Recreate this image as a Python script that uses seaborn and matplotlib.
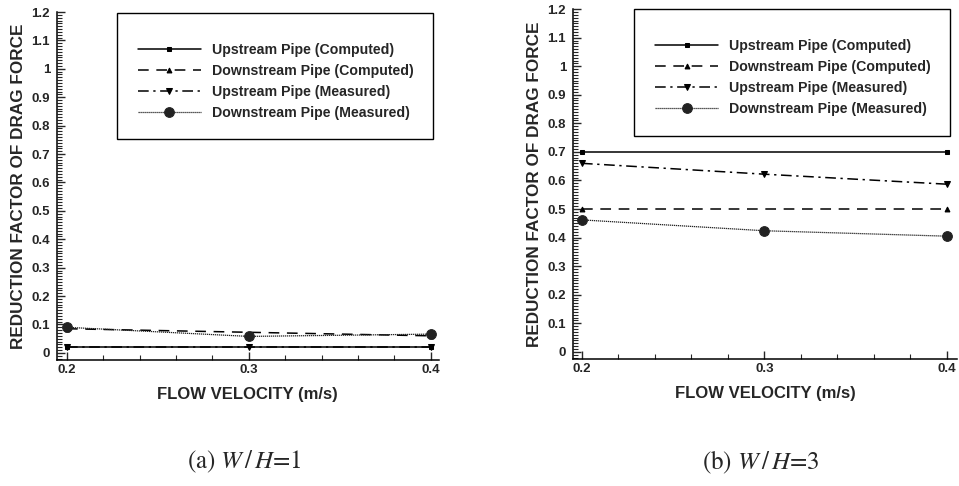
import numpy as np
import pandas as pd
import matplotlib
matplotlib.use("Agg")
import matplotlib.pyplot as plt
from matplotlib.ticker import MultipleLocator
from matplotlib.patches import Rectangle
import seaborn as sns

# flow velocities (m/s)
v_computed = [0.2, 0.4]
v_measured = [0.2, 0.3, 0.4]

# (a) W/H = 1
up_comp_1 = [0.02, 0.02]
down_comp_1 = [0.085, 0.06]
up_meas_1 = [0.02, 0.02, 0.02]
down_meas_1 = [0.09, 0.058, 0.066]

# (b) W/H = 3
up_comp_3 = [0.70, 0.70]
down_comp_3 = [0.50, 0.50]
up_meas_3 = [0.66, 0.622, 0.587]
down_meas_3 = [0.462, 0.424, 0.405]

labels = ["Upstream Pipe (Computed)", "Downstream Pipe (Computed)",
          "Upstream Pipe (Measured)", "Downstream Pipe (Measured)"]
captions = [r"(a) $W\,/\,H$=1", r"(b) $W\,/\,H$=3"]

sns.set_style("ticks")
plt.rcParams["font.family"] = ["Liberation Sans", "DejaVu Sans"]
plt.rcParams["mathtext.fontset"] = "stix"
plt.rcParams["xtick.direction"] = "in"
plt.rcParams["ytick.direction"] = "in"

fig = plt.figure(figsize=(9.59, 4.86), dpi=100)
ax1 = fig.add_axes([0.0594, 0.2593, 0.398, 0.716])
ax2 = fig.add_axes([0.5975, 0.2613, 0.4004, 0.720])

styles = [
    dict(marker="s", markersize=3.5, linestyle="-", linewidth=1.1, color="black"),
    dict(marker="^", markersize=3.5, linestyle=(0, (7, 5)), linewidth=1.1, color="black"),
    dict(marker="v", markersize=5, linestyle=(0, (7, 3, 1.5, 3)), linewidth=1.1, color="black"),
    dict(marker="o", markersize=7, linestyle=(0, (1, 0.6)), linewidth=0.9, color="#222222"),
]

panels = [
    (ax1, [up_comp_1, down_comp_1, up_meas_1, down_meas_1], (0.1945, 0.4044),
     (0.157, 0.635, 0.827, 0.362), (0.212, 0.91), 0.255),
    (ax2, [up_comp_3, down_comp_3, up_meas_3, down_meas_3], (0.1951, 0.4055),
     (0.159, 0.637, 0.823, 0.363), (0.2135, 0.914), 0.7935),
]

for i, (ax, series, xl, box, anchor, cap_x) in enumerate(panels):
    xs = [v_computed, v_computed, v_measured, v_measured]
    for x, y, lab, st in zip(xs, series, labels, styles):
        df = pd.DataFrame({"v": x, "r": y})
        sns.lineplot(data=df, x="v", y="r", ax=ax, label=lab,
                     markeredgecolor=st["color"], **st)
    ax.set_xlim(*xl)
    ax.set_ylim(-0.025, 1.2)
    ax.set_xticks([0.2, 0.3, 0.4])
    ax.set_xticklabels(["0.2", "0.3", "0.4"])
    ax.set_yticks(np.round(np.arange(0, 1.21, 0.1), 1))
    ax.set_yticklabels(["0", "0.1", "0.2", "0.3", "0.4", "0.5", "0.6", "0.7",
                        "0.8", "0.9", "1", "1.1", "1.2"])
    ax.xaxis.set_minor_locator(MultipleLocator(0.02))
    ax.yaxis.set_minor_locator(MultipleLocator(0.01))
    ax.tick_params(which="major", length=6, width=1, labelsize=9.5)
    ax.tick_params(axis="x", which="major", pad=3)
    ax.tick_params(axis="y", which="major", pad=5)
    ax.tick_params(which="minor", length=3.5, width=0.8)
    for t in ax.get_xticklabels() + ax.get_yticklabels():
        t.set_fontweight("bold")
    sns.despine(ax=ax)
    for s in ["left", "bottom"]:
        ax.spines[s].set_linewidth(1.1)
        ax.spines[s].set_color("black")
    ax.set_xlabel("FLOW VELOCITY (m/s)", fontsize=12, fontweight="bold", labelpad=8)
    ax.set_ylabel("REDUCTION FACTOR OF DRAG FORCE", fontsize=12.3, fontweight="bold",
                  labelpad=4)
    ax.add_patch(Rectangle((box[0], box[1]), box[2], box[3], transform=ax.transAxes,
                           fill=False, edgecolor="black", linewidth=1, clip_on=False))
    ax.legend(loc="upper left", bbox_to_anchor=anchor,
              frameon=False, handlelength=4.45, handletextpad=0.8,
              labelspacing=0.48, borderaxespad=0, borderpad=0,
              prop={"weight": "bold", "size": 10.2})
    fig.text(cap_x, 0.049, captions[i], ha="center", va="center",
             fontsize=18, family="STIXGeneral")

fig.savefig("out.png", dpi=100)
